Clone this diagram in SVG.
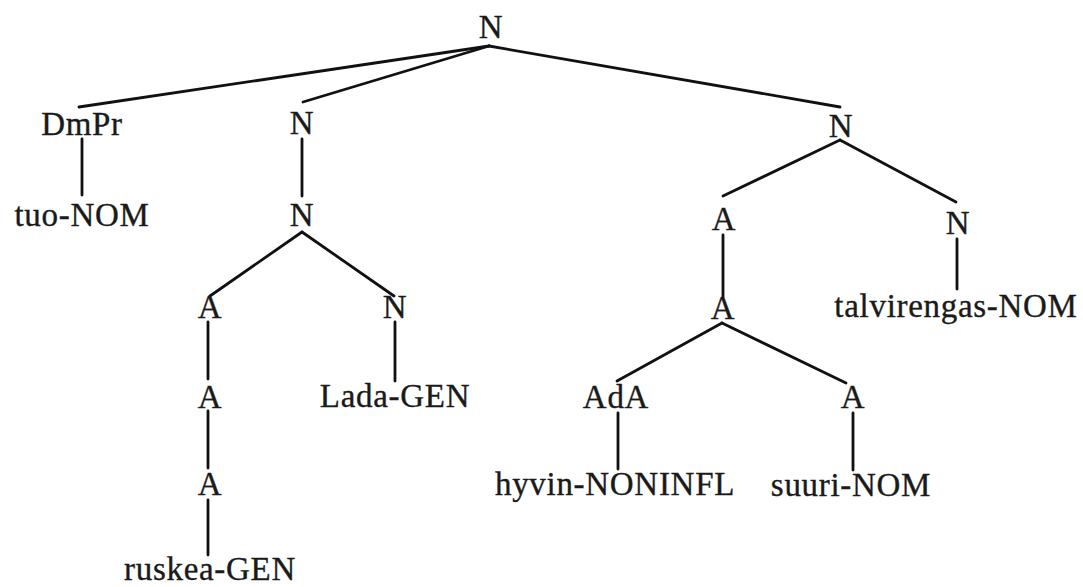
<svg xmlns="http://www.w3.org/2000/svg" width="1083" height="587" viewBox="0 0 1083 587">
<style>
text{font-family:"Liberation Serif","Times New Roman",serif;font-size:33px;letter-spacing:0.7px;fill:#1a1a1a;stroke:#1a1a1a;stroke-width:0.35;text-anchor:middle}
.e line{stroke:#111;stroke-width:2.8;stroke-linecap:round}
</style>
<rect width="1083" height="587" fill="#fff"/>
<g id="connectors" class="e">
<line x1="489" y1="46" x2="79" y2="107"/>
<line x1="489" y1="46" x2="303" y2="102"/>
<line x1="489" y1="46" x2="840" y2="107"/>
<line x1="82" y1="139" x2="82" y2="195"/>
<line x1="302" y1="139" x2="302" y2="196"/>
<line x1="302" y1="232" x2="210" y2="296"/>
<line x1="302" y1="232" x2="394" y2="296"/>
<line x1="208" y1="322" x2="208" y2="379"/>
<line x1="208" y1="411" x2="208" y2="468"/>
<line x1="208" y1="500" x2="208" y2="555"/>
<line x1="395" y1="322" x2="395" y2="381"/>
<line x1="840" y1="140" x2="723" y2="196"/>
<line x1="840" y1="140" x2="956" y2="202"/>
<line x1="723" y1="235" x2="723" y2="297"/>
<line x1="957" y1="239" x2="957" y2="289"/>
<line x1="722" y1="323" x2="617" y2="381"/>
<line x1="722" y1="323" x2="846" y2="383"/>
<line x1="618" y1="413" x2="618" y2="469"/>
<line x1="853" y1="413" x2="853" y2="470"/>
</g>
<g id="n-root"><text x="491" y="38">N</text></g>
<g id="n-dmpr"><text x="82" y="135">DmPr</text></g>
<g id="n-tuo"><text x="82" y="226">tuo-NOM</text></g>
<g id="n-n2"><text x="302" y="134">N</text></g>
<g id="n-n3"><text x="302" y="226">N</text></g>
<g id="n-a1"><text x="210" y="318">A</text></g>
<g id="n-a2"><text x="210" y="408">A</text></g>
<g id="n-a3"><text x="210" y="495">A</text></g>
<g id="n-ruskea"><text x="210" y="580">ruskea-GEN</text></g>
<g id="n-n4"><text x="395" y="318">N</text></g>
<g id="n-lada"><text x="395" y="407">Lada-GEN</text></g>
<g id="n-nr"><text x="841" y="137">N</text></g>
<g id="n-ar"><text x="724" y="230">A</text></g>
<g id="n-nr2"><text x="958" y="234">N</text></g>
<g id="n-ar2"><text x="723" y="319">A</text></g>
<g id="n-talvi"><text x="956" y="317">talvirengas-NOM</text></g>
<g id="n-ada"><text x="616" y="408">AdA</text></g>
<g id="n-ar3"><text x="853" y="408">A</text></g>
<g id="n-hyvin"><text x="615" y="495">hyvin-NONINFL</text></g>
<g id="n-suuri"><text x="851" y="496">suuri-NOM</text></g>
</svg>
